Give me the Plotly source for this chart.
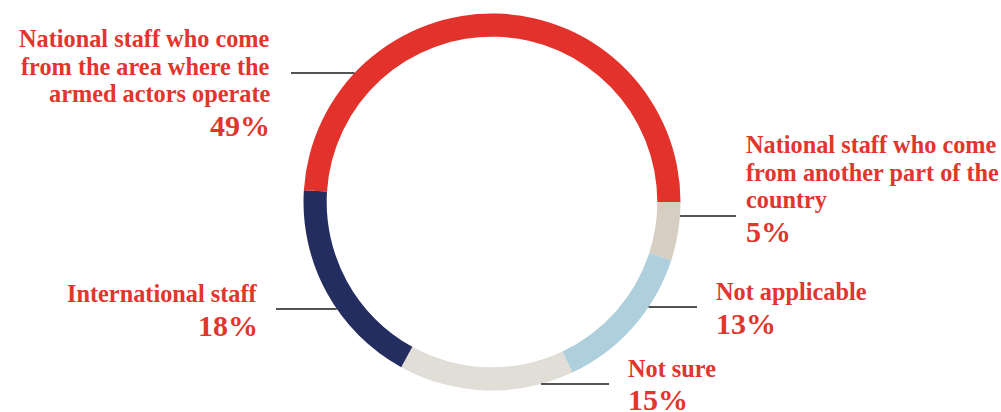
import plotly.graph_objects as go
import math

# ---- data ----
labels = [
    "National staff who come from another part of the country",
    "Not applicable",
    "Not sure",
    "International staff",
    "National staff who come from the area where the armed actors operate",
]
values = [5, 13, 15, 18, 49]
label_lines = [
    ["National staff who come", "from another part of the", "country"],
    ["Not applicable"],
    ["Not sure"],
    ["International staff"],
    ["National staff who come", "from the area where the", "armed actors operate"],
]
pct_text = ["5%", "13%", "15%", "18%", "49%"]
colors = ["#D6CEC3", "#AED0DD", "#E0DED6", "#232D5F", "#E2322B"]

# ---- layout (pixels) ----
W, H = 1001, 412
CX, CY, R = 492, 202, 188.5
HOLE = 0.877
TEXT_RED = "#E2352E"
FONT = "Liberation Serif"
FS_LABEL = 24.3
FS_PCT = 30
LINE_GAP = 27.5

# per-label: text x, anchor, first baseline, pct baseline, leader y, leader outer x
placement = [
    dict(x=747, anchor="left", base=153, pct=241, ly=216, lx=736),
    dict(x=717, anchor="left", base=300, pct=333, ly=307, lx=697),
    dict(x=629, anchor="left", base=377, pct=409, ly=384, lx=609),
    dict(x=257, anchor="right", base=302, pct=335, ly=309, lx=276),
    dict(x=269, anchor="right", base=47, pct=135, ly=73, lx=291),
]

def px(x):
    return x / W

def py(y):
    return 1 - y / H

fig = go.Figure(
    go.Pie(
        labels=labels,
        values=values,
        sort=False,
        direction="clockwise",
        rotation=90,
        hole=HOLE,
        marker=dict(colors=colors, line=dict(width=0)),
        textinfo="none",
        hoverinfo="label+percent",
        showlegend=False,
        domain=dict(x=[px(CX - R), px(CX + R)], y=[py(CY + R), py(CY - R)]),
    )
)

annotations = []
shapes = []
for i, p in enumerate(placement):
    ax = p["x"] + (-1 if p["anchor"] == "left" else 1)
    for j, line in enumerate(label_lines[i]):
        base = p["base"] + j * LINE_GAP
        annotations.append(dict(
            x=px(ax), y=py(base - 0.33 * FS_LABEL), xref="paper", yref="paper",
            text=line, showarrow=False, xanchor=p["anchor"], yanchor="middle",
            borderpad=0, borderwidth=0,
            font=dict(family=FONT, size=FS_LABEL, color=TEXT_RED, weight="bold"),
        ))
    annotations.append(dict(
        x=px(ax), y=py(p["pct"] - 0.33 * FS_PCT), xref="paper", yref="paper",
        text=pct_text[i], showarrow=False, xanchor=p["anchor"], yanchor="middle",
        borderpad=0, borderwidth=0,
        font=dict(family=FONT, size=FS_PCT, color=TEXT_RED, weight="bold"),
    ))
    # leader line from outer ring edge to label side
    dy = p["ly"] - CY
    dx = math.sqrt(max(R * R - dy * dy, 0))
    ring_x = CX + dx if p["lx"] > CX else CX - dx
    shapes.append(dict(
        type="line", xref="paper", yref="paper",
        x0=px(ring_x), y0=py(p["ly"]), x1=px(p["lx"]), y1=py(p["ly"]),
        line=dict(color="#1A1A1A", width=1.5),
    ))

fig.update_layout(
    width=W, height=H,
    margin=dict(l=0, r=0, t=0, b=0),
    paper_bgcolor="white", plot_bgcolor="white",
    annotations=annotations, shapes=shapes,
)

fig.write_html(
    "out.html",
    config={"displayModeBar": False},
    post_script="document.body.style.margin='0';document.body.style.overflow='hidden';",
)
